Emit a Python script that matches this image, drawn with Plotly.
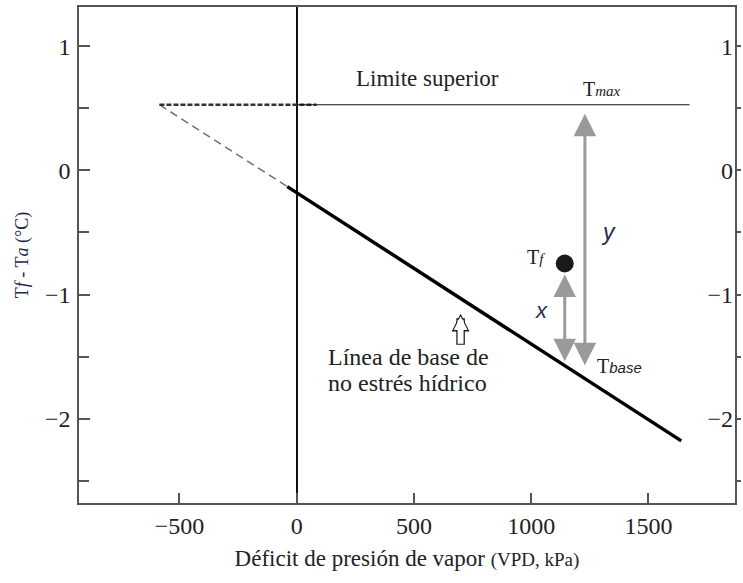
import numpy as np
import plotly.graph_objects as go

# --- data -------------------------------------------------------------
# no-stress baseline (solid part) and its dashed extension to the upper limit
baseline_x = [-40, 1640]
baseline_y = [-0.13, -2.18]
extension_x = [-585, -40]
extension_y = [0.53, -0.13]

# upper limit (Tmax)
upper_limit = 0.53
upper_x = [0, 1675]
upper_dash_x = [-585, 85]

# measured canopy temperature point (Tf)
tf_x = [1143]
tf_y = [-0.75]

# position of the "y" arrow (Tmax - Tbase)
ymark_x = 1229

# hollow pointer towards the baseline (x, tail y, tip y)
pointer_x = 699
pointer_y = [-1.418, -1.155]

x_ticks = [-500, 0, 500, 1000, 1500]
y_ticks = [1, 0, -1, -2]
y_minor = [0.5, -0.5, -1.5, -2.5]

x_range = [-928, 1869]
y_range = [-2.681, 1.318]

SERIF = "Liberation Serif, Times New Roman, serif"
SANS = "Liberation Sans, Arial, sans-serif"
NAVY = "#1f2d4d"
GREY = "#9a9a9a"
AXIS = "#555555"
INK = "#222222"


def base_at(x):
    return float(np.interp(x, baseline_x, baseline_y))


fig = go.Figure()

# dashed extension of the baseline
fig.add_trace(go.Scatter(x=extension_x, y=extension_y, mode="lines",
                         line=dict(color="#707070", width=1.5, dash="8px,5px"),
                         hoverinfo="skip", showlegend=False))
# dashed part of the upper limit
fig.add_trace(go.Scatter(x=upper_dash_x, y=[upper_limit] * 2, mode="lines",
                         line=dict(color="#333333", width=2.4, dash="5px,2px"),
                         hoverinfo="skip", showlegend=False))
# solid upper limit
fig.add_trace(go.Scatter(x=upper_x, y=[upper_limit] * 2, mode="lines",
                         line=dict(color="#111111", width=1.2),
                         hoverinfo="skip", showlegend=False))
# no-stress baseline
fig.add_trace(go.Scatter(x=baseline_x, y=baseline_y, mode="lines",
                         line=dict(color="#000000", width=3.5),
                         hoverinfo="skip", showlegend=False))
# Tf point
fig.add_trace(go.Scatter(x=tf_x, y=tf_y, mode="markers",
                         marker=dict(color="#1a1a1a", size=18),
                         hoverinfo="skip", showlegend=False))
# invisible trace to carry the right-hand axis
fig.add_trace(go.Scatter(x=[x_range[0]], y=[0], mode="markers", yaxis="y2",
                         marker=dict(opacity=0), hoverinfo="skip", showlegend=False))

arrow_style = dict(text="", showarrow=True, arrowside="end+start", arrowhead=2,
                   startarrowhead=2, arrowsize=1.5, startarrowsize=1.5,
                   arrowwidth=3, arrowcolor=GREY, axref="x", ayref="y",
                   xref="x", yref="y")

# x: from the baseline up to Tf
fig.add_annotation(x=tf_x[0], y=tf_y[0], ax=tf_x[0], ay=base_at(tf_x[0]),
                   standoff=11, startstandoff=3, **arrow_style)
# y: from the baseline up to Tmax
fig.add_annotation(x=ymark_x, y=upper_limit, ax=ymark_x, ay=base_at(ymark_x),
                   standoff=9, startstandoff=12, **arrow_style)

# hollow block arrow: dark outline with a white arrow laid inside it
pointer = dict(text="", showarrow=True, arrowhead=2, axref="x", ayref="y",
               xref="x", yref="y", x=pointer_x, y=pointer_y[1],
               ax=pointer_x, ay=pointer_y[0])
fig.add_annotation(arrowwidth=8.5, arrowsize=0.42, arrowcolor="#1a1a1a", **pointer)
fig.add_annotation(arrowwidth=6, arrowsize=0.46, arrowcolor="white",
                   standoff=2.4, startstandoff=1.2, **pointer)

labels = [
    dict(x=559, y=0.745, text="Limite superior", font=dict(family=SERIF, size=23)),
    dict(x=1300, y=0.655,
         text="T<i><span style='font-size:15px'>max</span></i>",
         font=dict(family=SERIF, size=20)),
    dict(x=1328, y=-0.50, text="<i>y</i>", font=dict(family=SANS, size=23, color=NAVY)),
    dict(x=1021, y=-0.70,
         text="T<i><span style='font-size:15px'>f</span></i>",
         font=dict(family=SERIF, size=20)),
    dict(x=1042, y=-1.126, text="<i>x</i>", font=dict(family=SANS, size=22, color=NAVY)),
    dict(x=1375, y=-1.58,
         text="T<i><span style='font-size:15px; font-family:Liberation Sans'>base</span></i>",
         font=dict(family=SERIF, size=20)),
    dict(x=123, y=-1.505, xanchor="left", text="Línea de base de",
         font=dict(family=SERIF, size=24)),
    dict(x=123, y=-1.715, xanchor="left", text="no estrés hídrico",
         font=dict(family=SERIF, size=24)),
]
for lab in labels:
    lab.setdefault("xanchor", "center")
    fig.add_annotation(xref="x", yref="y", showarrow=False, yanchor="middle", **lab)

axis_line = dict(showline=True, linecolor=AXIS, linewidth=1.5, showgrid=False)

# right-hand axis: major and minor ticks share the same short outside marks
right_vals = sorted(y_ticks + y_minor)
right_text = [("\u2212" if v < 0 else "") + str(abs(int(v))) if v in y_ticks else ""
              for v in right_vals]

fig.update_layout(
    width=743, height=583,
    margin=dict(l=79, r=4, t=7, b=80),
    paper_bgcolor="white", plot_bgcolor="white",
    font=dict(family=SERIF, size=20, color=INK),
    xaxis=dict(range=x_range, tickmode="array", tickvals=x_ticks,
               ticks="inside", ticklen=10, tickcolor=AXIS, tickwidth=1.5,
               mirror=True, zeroline=True, zerolinecolor="#111111", zerolinewidth=1.5,
               tickfont=dict(family=SERIF, size=24, color=INK),
               title=dict(text="Déficit de presión de vapor "
                               "<span style='font-size:19px'>(VPD, kPa)</span>",
                          font=dict(family=SERIF, size=23, color=INK),
                          standoff=12),
               **axis_line),
    yaxis=dict(range=y_range, tickmode="array", tickvals=y_ticks,
               ticks="inside", ticklen=11, tickcolor=AXIS, tickwidth=1.5,
               minor=dict(tickmode="array", tickvals=y_minor, ticks="inside",
                          ticklen=10, tickcolor=AXIS, tickwidth=1.5),
               zeroline=False, ticklabelstandoff=2,
               tickfont=dict(family=SERIF, size=24, color=INK),
               title=dict(text="T<i>f</i> - T<i>a</i> (°C)",
                          font=dict(family=SERIF, size=18, color="#1e2a44"),
                          standoff=12),
               **axis_line),
    yaxis2=dict(range=y_range, overlaying="y", side="right", tickmode="array",
                tickvals=right_vals, ticktext=right_text,
                ticks="outside", ticklen=4, tickcolor=AXIS,
                tickwidth=1.5, ticklabelposition="inside", ticklabelstandoff=4,
                zeroline=False,
                tickfont=dict(family=SERIF, size=24, color=INK),
                **axis_line),
)

fig.write_html("out.html")
